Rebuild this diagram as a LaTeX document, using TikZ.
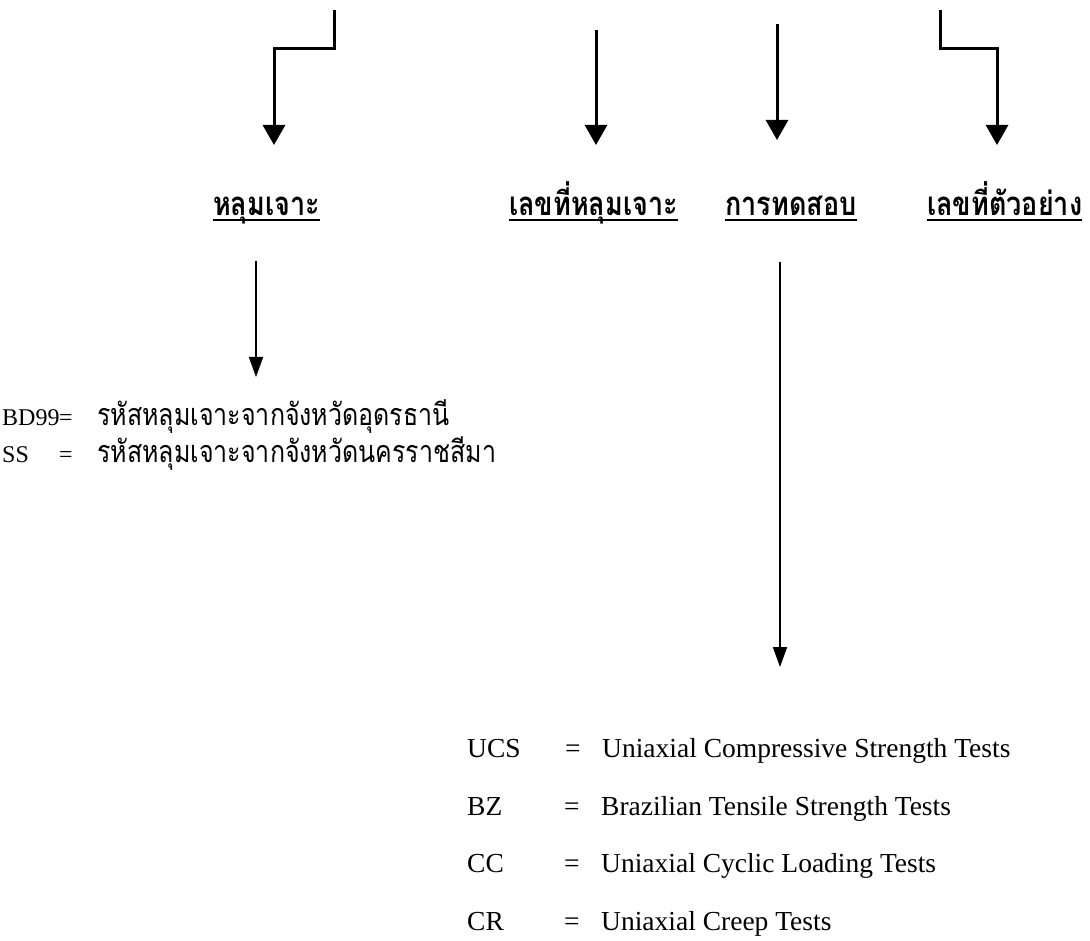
\documentclass[tikz,border=0pt]{standalone}
\usepackage{graphicx}
\usepackage{fontspec}
\setmainfont{Liberation Serif}
\newfontfamily\thai[Script=Thai]{Loma}
\usetikzlibrary{arrows.meta}
\newcommand{\talltext}[1]{\scalebox{1}[1.22]{#1}}
\tikzset{
  thick arrow/.style={line width=3pt, -{Triangle[width=22pt,length=20pt]}},
  thin arrow/.style={line width=1.8pt, -{Triangle[width=14pt,length=20pt]}},
  thaihead/.style={anchor=base west, inner sep=0pt, font=\thai\bfseries\fontsize{27}{32}\selectfont},
  thaitxt/.style={anchor=base west, inner sep=0pt, font=\thai\fontsize{25}{30}\selectfont},
  lattxt/.style={anchor=base west, inner sep=0pt, font=\fontsize{24}{28}\selectfont},
  listtxt/.style={anchor=base west, inner sep=0pt, font=\fontsize{27.5}{32}\selectfont},
  uline/.style={line width=2.4pt}
}
\begin{document}
\begin{tikzpicture}[x=1pt,y=-1pt]
\useasboundingbox (0,0) rectangle (1090,941);
% headers
\node[thaihead] (h1) at (213,216) {\talltext{หลุมเจาะ}};
\node[thaihead] (h2) at (509,216) {\talltext{เลขที่หลุมเจาะ}};
\node[thaihead] (h3) at (725,216) {\talltext{การทดสอบ}};
\node[thaihead] (h4) at (927,216) {\talltext{เลขที่ตัวอย่าง}};
\foreach \h in {h1,h2,h3,h4}
  \draw[uline] ([yshift=-4pt]\h.base west) -- ([yshift=-4pt]\h.base east);
% top arrows
\coordinate (s1) at (334,10);
\coordinate (e1) at (274,145);
\coordinate (s2) at (596,30);
\coordinate (e2) at (596,145);
\coordinate (s3) at (777,24);
\coordinate (e3) at (777,140);
\coordinate (s4) at (940,10);
\coordinate (e4) at (997,145);
\draw[thick arrow] (s1) |- (274,49) -- (e1);
\draw[thick arrow] (s2) -- (e2);
\draw[thick arrow] (s3) -- (e3);
\draw[thick arrow] (s4) |- (997,49) -- (e4);
% lower arrows
\coordinate (s5) at (256,261);
\coordinate (e5) at (256,377);
\coordinate (s6) at (780,262);
\coordinate (e6) at (780,667);
\draw[thin arrow] (s5) -- (e5);
\draw[thin arrow] (s6) -- (e6);
% borehole legend
\node[lattxt] (bd) at (2,425) {BD99};
\node[lattxt] (bdeq) at (59,425) {=};
\node[thaitxt] (bdt) at (97,425) {\talltext{รหัสหลุมเจาะจากจังหวัดอุดรธานี}};
\node[lattxt] (ss) at (2,462) {SS};
\node[lattxt] (sseq) at (59,462) {=};
\node[thaitxt] (sst) at (97,462) {\talltext{รหัสหลุมเจาะจากจังหวัดนครราชสีมา}};
% test legend
\node[listtxt] (a1) at (467,757) {UCS};
\node[listtxt] (q1) at (565,757) {=};
\node[listtxt] (d1) at (602,757) {Uniaxial Compressive Strength Tests};
\node[listtxt] (a2) at (467,815) {BZ};
\node[listtxt] (q2) at (564,815) {=};
\node[listtxt] (d2) at (601,815) {Brazilian Tensile Strength Tests};
\node[listtxt] (a3) at (467,872) {CC};
\node[listtxt] (q3) at (564,872) {=};
\node[listtxt] (d3) at (601,872) {Uniaxial Cyclic Loading Tests};
\node[listtxt] (a4) at (467,930) {CR};
\node[listtxt] (q4) at (564,930) {=};
\node[listtxt] (d4) at (601,930) {Uniaxial Creep Tests};
\end{tikzpicture}
\end{document}
